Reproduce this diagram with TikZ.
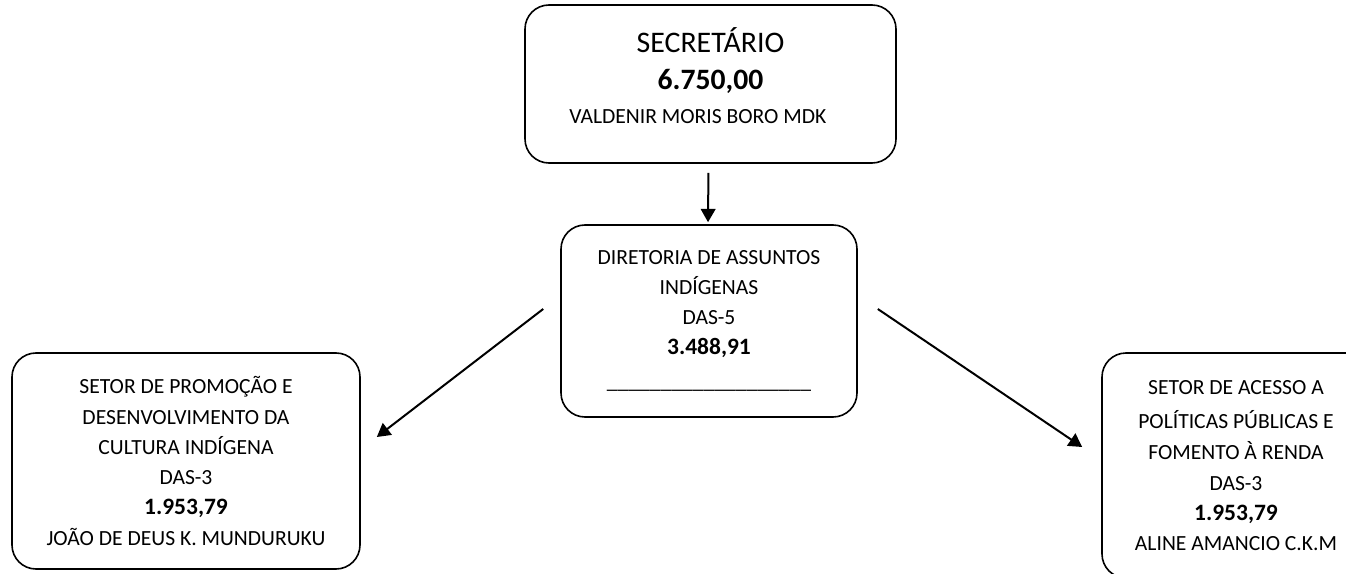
\documentclass[tikz,border=0pt]{standalone}
\usepackage{fontspec}
\setmainfont{Carlito}
\usetikzlibrary{arrows.meta}
\tikzset{
  cargo/.style={draw, line width=1.2pt, rounded corners=18pt, inner sep=0pt,
    align=center, font=\fontsize{16.2}{22.5}\selectfont},
  seta/.style={line width=1.5pt, -{Triangle[length=10pt,width=11pt]}}
}
\newcommand{\valor}{\fontsize{17.6}{20}\selectfont\bfseries}
\begin{document}
\begin{tikzpicture}[x=0.75pt,y=-0.75pt]
\useasboundingbox (0,0) rectangle (1346,574);
\fill[white] (0,0) rectangle (1346,574);
\clip (0,0) rectangle (1346,574);
% top
\node[cargo, minimum width=278.25pt, minimum height=118.5pt, text depth=13pt] (sec) at (710.5,84)
  {{\fontsize{22.4}{26}\selectfont SECRETÁRIO}\\[5pt]
   {\fontsize{22.2}{26}\selectfont\bfseries 6.750,00}\\[3pt]
   VALDENIR MORIS BORO MDK\hspace*{19pt}};
% middle
\node[cargo, minimum width=222pt, minimum height=144pt] (dir) at (709,321)
  {DIRETORIA DE ASSUNTOS\\ INDÍGENAS\\ DAS-5\\ {\valor 3.488,91}\\[3pt]
   \_\_\_\_\_\_\_\_\_\_\_\_\_\_\_\_\_\_\_};
% left
\node[cargo, minimum width=261pt, minimum height=162pt, text depth=0pt] (cult) at (186,461)
  {SETOR DE PROMOÇÃO E\\[1pt] DESENVOLVIMENTO DA\\[0pt] CULTURA INDÍGENA\\[0pt]
   DAS-3\\[0pt] {\valor 1.953,79}\\[1pt] JOÃO DE DEUS K. MUNDURUKU};
% right
\node[cargo, minimum width=201pt, minimum height=168.75pt] (renda) at (1236,465.5)
  {SETOR DE ACESSO A\\[3pt] POLÍTICAS PÚBLICAS E\\[1pt] FOMENTO À RENDA\\[1pt]
   DAS-3\\[0pt] {\valor 1.953,79}\\[0pt] ALINE AMANCIO C.K.M};
% arrows
\draw[seta, shorten <=6.75pt, shorten >=1.5pt] ([xshift=-1.5pt]sec.south) -- ([xshift=-0.75pt]dir.north);
\draw[seta] ([shift={(-17,-12)}]dir.west) -- ([shift={(16,-24)}]cult.east);
\draw[seta] ([shift={(20,-12)}]dir.east) -- ([shift={(-19,-18.5)}]renda.west);
\end{tikzpicture}
\end{document}
